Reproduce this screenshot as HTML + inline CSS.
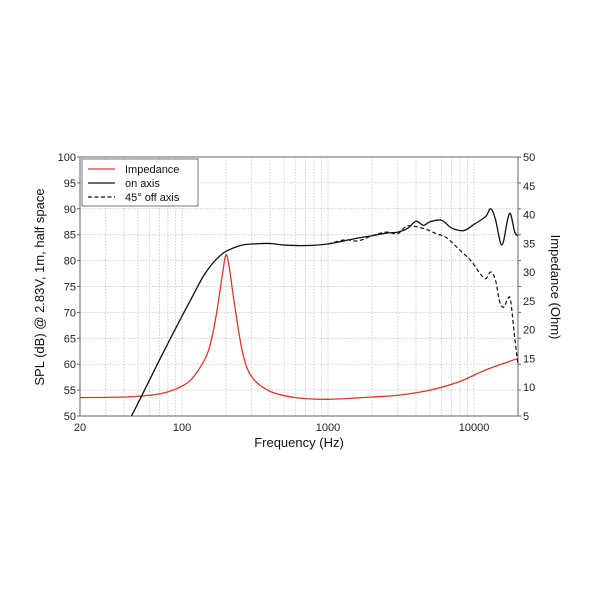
<!DOCTYPE html>
<html><head><meta charset="utf-8"><style>
body{margin:0;background:#fff;}
svg{display:block;font-family:"Liberation Sans",sans-serif;}
</style></head><body>
<svg id="s" width="600" height="600" xmlns="http://www.w3.org/2000/svg"></svg>
<script>
const L=80,R=518,T=157,B=416;
const X=f=>L+(R-L)/3*Math.log10(f/20);
const Y=v=>T+(100-v)*(B-T)/50;
const YZ=z=>T+(50-z)*(B-T)/45;
let h='';
for(let d=10;d<=10000;d*=10)for(let m=1;m<10;m++){const f=d*m;if(f<=20||f>=20000)continue;const x=X(f);
h+=`<line x1="${x}" y1="${T}" x2="${x}" y2="${B}" stroke="#c4c4c4" stroke-width="0.8" stroke-dasharray="1.5,1.5"/>`;}
for(let v=55;v<100;v+=5){const y=Y(v);h+=`<line x1="${L}" y1="${y}" x2="${R}" y2="${y}" stroke="#c4c4c4" stroke-width="0.8" stroke-dasharray="1.5,1.5"/>`;}
h+=`<rect x="${L}" y="${T}" width="${R-L}" height="${B-T}" fill="none" stroke="#666" stroke-width="1"/>`;
for(let v=50;v<=100;v+=5){const y=Y(v);h+=`<text x="${L-4}" y="${y+4}" font-size="11" text-anchor="end" fill="#222">${v}</text>`;
h+=`<line x1="${L}" y1="${y}" x2="${L-3}" y2="${y}" stroke="#666"/><line x1="${R}" y1="${y}" x2="${R+3}" y2="${y}" stroke="#666"/>`;}
for(let z=5;z<=50;z+=5){const y=YZ(z);h+=`<text x="${R+5}" y="${y+4}" font-size="11" fill="#222">${z}</text>`;}
[[20,'20'],[100,'100'],[1000,'1000'],[10000,'10000']].forEach(([f,t])=>{h+=`<text x="${X(f)}" y="${B+15}" font-size="11" text-anchor="middle" fill="#222">${t}</text>`;});
h+=`<text x="299" y="447" font-size="13" text-anchor="middle" fill="#111">Frequency (Hz)</text>`;
h+=`<text transform="translate(44,287) rotate(-90)" font-size="13" text-anchor="middle" fill="#111">SPL (dB) @ 2.83V, 1m, half space</text>`;
h+=`<text transform="translate(551,287) rotate(90)" font-size="13" text-anchor="middle" fill="#111">Impedance (Ohm)</text>`;
function path(pts){const p=pts.map(q=>[X(q[0]),q[1]]);let d=`M${p[0][0]},${p[0][1]}`;
for(let i=0;i<p.length-1;i++){const a=p[i-1]||p[i],b=p[i],c=p[i+1],e=p[i+2]||c;
d+=` C${b[0]+(c[0]-a[0])/6},${b[1]+(c[1]-a[1])/6} ${c[0]-(e[0]-b[0])/6},${c[1]-(e[1]-b[1])/6} ${c[0]},${c[1]}`;}return d;}
const on=[[45,50],[50,52.5],[60,57],[70,60.8],[80,64],[100,69.3],[120,73.5],[140,77],[160,79.3],[180,80.8],[200,81.8],[250,82.9],[300,83.2],[400,83.3],[500,83],[700,82.9],[1000,83.2],[1500,84.2],[2000,84.8],[2500,85.3],[3000,85.5],[3500,86.2],[4000,87.6],[4500,86.8],[5000,87.5],[6000,87.8],[7000,86.3],[8500,85.8],[10000,87],[12000,88.5],[13000,90],[14000,88],[15500,83],[17000,88],[17800,89],[19000,85.5],[20000,84.8]];
const off=[[1000,83.2],[1300,84],[1600,83.8],[2000,84.8],[2500,85.5],[3000,85.2],[3500,86.7],[4500,86.2],[5500,85.2],[6500,84.4],[8000,82],[9500,80],[11000,77.5],[12000,76.5],[13000,77.8],[14000,76.3],[15000,72],[16000,71],[17000,72.6],[17800,72.3],[19000,65],[20000,60]];
const imp=[[20,8.2],[40,8.3],[60,8.6],[80,9.2],[100,10.2],[120,11.8],[150,16],[170,22],[190,30],[200,33],[210,31],[230,24],[260,16],[300,11.8],[400,9.3],[600,8.2],[1000,7.9],[2000,8.3],[3000,8.6],[5000,9.5],[8000,11],[12000,13],[20000,15]].map(q=>[q[0],YZ(q[1])]);
const m=a=>a.map(q=>[q[0],Y(q[1])]);
h+=`<path d="${path(imp)}" fill="none" stroke="#d9372c" stroke-width="1.3"/>`;
h+=`<path d="${path(m(off))}" fill="none" stroke="#111" stroke-width="1.2" stroke-dasharray="4,2.5"/>`;
h+=`<path d="${path(m(on))}" fill="none" stroke="#111" stroke-width="1.3"/>`;
h+=`<rect x="82" y="159" width="116" height="47" fill="#fff" stroke="#777"/>`;
[['#d9372c','','Impedance'],['#111','','on axis'],['#111','4,2.5','45° off axis']].forEach((l,i)=>{const y=169+i*14;
h+=`<line x1="88" y1="${y}" x2="115" y2="${y}" stroke="${l[0]}" stroke-width="1.3" ${l[1]?`stroke-dasharray="${l[1]}"`:''}/>`;
h+=`<text x="125" y="${y+4}" font-size="11" fill="#111">${l[2]}</text>`;});
document.getElementById('s').innerHTML=h;
</script>
</body></html>
